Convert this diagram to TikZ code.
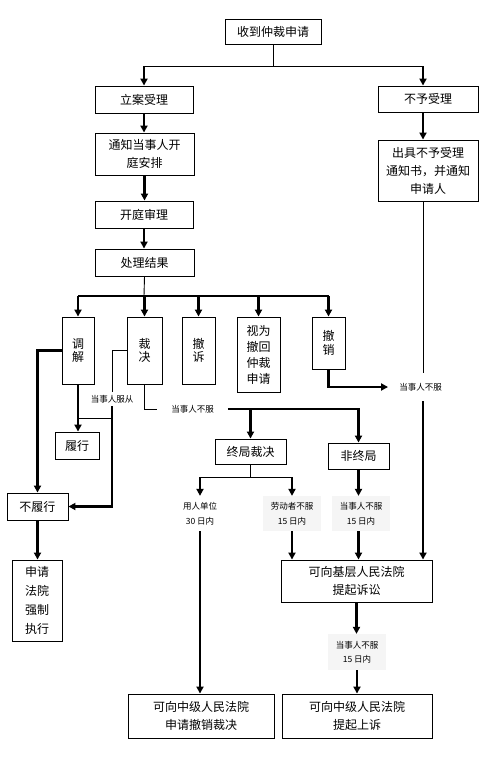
\documentclass[tikz,border=0pt]{standalone}
\usepackage{fontspec}
\setmainfont{Noto Sans CJK SC}
\usetikzlibrary{arrows.meta,calc}
\begin{document}
\begin{tikzpicture}[x=1pt,y=-1pt,
  bx/.style={draw,line width=0.9pt,inner sep=0pt,align=center,font=\fontsize{12}{18}\selectfont},
  vb/.style={font=\fontsize{12}{13.5}\selectfont},
  lb/.style={inner xsep=3pt,inner ysep=2pt,align=center,font=\fontsize{8.5}{15}\selectfont},
  shd/.style={fill=black!4},
  thk/.style={line width=2.2pt},
  thn/.style={line width=0.9pt},
  arr/.style={-{Triangle[length=7pt,width=7pt]}}
]
\fill[white] (0,0) rectangle (487,763);
\useasboundingbox (0,0) rectangle (487,763);

% boxes
\node[bx,minimum width=96pt,minimum height=25pt] (n0) at (273,31.5) {收到仲裁申请};
\node[bx,minimum width=98pt,minimum height=27pt] (n1) at (144,99.5) {立案受理};
\node[bx,minimum width=100pt,minimum height=26pt] (n2) at (428,99) {不予受理};
\node[bx,minimum width=99pt,minimum height=42pt] (n3) at (144.5,154) {通知当事人开\\庭安排};
\node[bx,minimum width=100pt,minimum height=61pt] (n4) at (428,170.5) {出具不予受理\\通知书，并通知\\申请人};
\node[bx,minimum width=98pt,minimum height=27pt] (n5) at (144,214.5) {开庭审理};
\node[bx,minimum width=99pt,minimum height=27pt] (n6) at (144.5,262.5) {处理结果};
\node[bx,vb,minimum width=32pt,minimum height=67pt] (b1) at (78,350.5) {调\\解};
\node[bx,vb,minimum width=35pt,minimum height=67pt] (b2) at (144.5,350.5) {裁\\决};
\node[bx,vb,minimum width=33pt,minimum height=67pt] (b3) at (198.5,350.5) {撤\\诉};
\node[bx,font=\fontsize{12}{16}\selectfont,minimum width=43pt,minimum height=75pt] (b4) at (258.5,354.5) {视为\\撤回\\仲裁\\申请};
\node[bx,vb,minimum width=33pt,minimum height=52pt] (b5) at (328.5,343) {撤\\销};
\node[bx,minimum width=44pt,minimum height=27pt] (lx) at (77,445.5) {履行};
\node[bx,minimum width=61pt,minimum height=27pt] (nb) at (37.5,506.5) {不履行};
\node[bx,font=\fontsize{12}{19}\selectfont,minimum width=50pt,minimum height=81pt] (sq) at (37,600.5) {申请\\法院\\强制\\执行};
\node[bx,minimum width=71pt,minimum height=25pt] (zj) at (250.5,451.5) {终局裁决};
\node[bx,minimum width=61pt,minimum height=26pt] (fn) at (358.5,456) {非终局};
\node[bx,minimum width=151pt,minimum height=42pt] (base) at (356.5,581) {可向基层人民法院\\提起诉讼};
\node[bx,minimum width=146pt,minimum height=44pt] (zc) at (201,716) {可向中级人民法院\\申请撤销裁决};
\node[bx,minimum width=150pt,minimum height=44pt] (zs) at (357,716) {可向中级人民法院\\提起上诉};

% labels
\node[lb,inner ysep=3pt] (L1) at (112,399) {当事人服从};
\node[lb,inner xsep=14pt] (L2) at (192.5,409) {当事人不服};
\node[lb,inner xsep=11pt,inner ysep=10pt] (L3) at (420.5,387) {当事人不服};
\node[lb,inner ysep=6pt] (L4) at (200,513.5) {用人单位\\30 日内};
\node[lb,shd,inner xsep=8pt,inner ysep=6pt] (L5) at (292,513.5) {劳动者不服\\15 日内};
\node[lb,shd,inner xsep=8pt,inner ysep=6pt] (L6) at (361,513.5) {当事人不服\\15 日内};
\node[lb,shd,inner xsep=8pt,inner ysep=7pt,font=\fontsize{8.5}{14}\selectfont] (L7) at (357,652) {当事人不服\\15 日内};

% junctions
\coordinate (j0) at (273,66);
\coordinate (jr) at (423,66);
\coordinate (h) at (144,296);
\coordinate (m1) at (112,418);
\coordinate (zb) at (250.5,477);

% connectors
\draw[thn] (n0.south) -- (j0);
\draw[thn] (j0 -| n1.north) -- (jr);
\draw[thk,arr] (j0 -| n1.north) -- (n1.north);
\draw[thk,arr] (jr) -- (jr |- n2.north);
\draw[thk,arr] (n1.south) -- (n1.south |- n3.north);
\draw[thk,arr] (n3.south) -- (n3.south |- n5.north);
\draw[thk,arr] (n5.south) -- (n5.south |- n6.north);
\draw[thk,arr] (jr |- n2.south) -- (jr |- n4.north);
\draw[thn] (jr |- n4.south) -- (jr |- L3.north);
\draw[thk,arr] (jr |- L3.south) -- (jr |- base.north);

\draw[thn] (n6.south) -- (h);
\draw[thk] (h -| b1.north) -- (h -| b5.north);
\foreach \b in {b1,b2,b3,b4,b5} \draw[thk,arr] (h -| \b.north) -- (\b.north);

\draw[thk,arr] (b5.south) |- (L3.west);
\draw[thk,arr] (b1.west) -| (nb.north);
\draw[thk,arr] (b1.south) -- (b1.south |- lx.north);
\draw[thn] (b2.west) -| (L1.north);
\draw[thk,arr] (L1.south) |- (nb.east);
\draw[thn] (m1) -- (m1 -| lx.north);
\draw[thk,arr] (nb.south) -- (nb.south |- sq.north);

\draw[thn] (b2.south) |- (L2.west);
\draw[thk,arr] (L2.east) -| (fn.north);
\draw[thk,arr] (L2.east -| zj.north) -- (zj.north);

\draw[thn] (zj.south) -- (zb);
\draw[thn] (zb -| L4.north) -- (zb -| L5.north);
\draw[thk,arr] (zb -| L4.north) -- (L4.north);
\draw[thk,arr] (zb -| L5.north) -- (L5.north);
\draw[thk,arr] (L4.south) -- (L4.south |- zc.north);
\draw[thk,arr] (L5.south) -- (L5.south |- base.north);
\draw[thk,arr] (fn.south) -- (fn.south |- L6.north);
\draw[thk,arr] (fn.south |- L6.south) -- (fn.south |- base.north);
\draw[thk,arr] (base.south) -- (base.south |- L7.north);
\draw[thk,arr] (L7.south) -- (L7.south |- zs.north);
\end{tikzpicture}
\end{document}
